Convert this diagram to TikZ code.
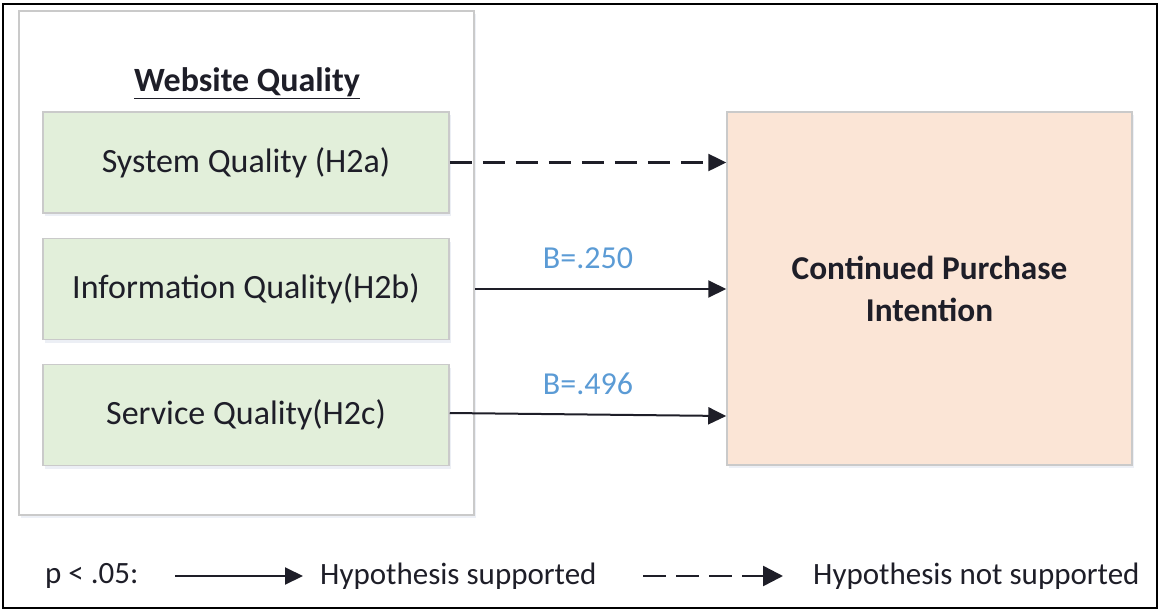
\documentclass[tikz,border=0pt]{standalone}
\usepackage{fontspec}
\setmainfont{Carlito}
\usetikzlibrary{arrows.meta,shadows}
\definecolor{boxgreen}{HTML}{E2EFDA}
\definecolor{boxpeach}{HTML}{FBE5D6}
\definecolor{edgegray}{HTML}{CACACA}
\definecolor{labelblue}{HTML}{5B9BD5}
\definecolor{ink}{HTML}{1E1E28}
\definecolor{shade}{HTML}{9AAACC}

\begin{document}
\begin{tikzpicture}[x=1pt,y=-1pt,
  soft/.style={drop shadow={opacity=0.18,shadow xshift=2pt,shadow yshift=-3pt,fill=shade}},
  panelbox/.style={draw=edgegray,line width=1.5pt,fill=white,soft,inner sep=0pt,
    minimum width=455pt,minimum height=504pt},
  factor/.style={draw=edgegray,line width=1.5pt,fill=boxgreen,soft,inner sep=0pt,
    minimum width=406pt,minimum height=101pt,font=\fontsize{34}{40}\selectfont,text=ink},
  outcome/.style={draw=edgegray,line width=1.5pt,fill=boxpeach,soft,inner sep=0pt,
    minimum width=405pt,minimum height=353pt,align=center,
    font=\bfseries\fontsize{33.3}{42}\selectfont,text=ink},
  coef/.style={font=\fontsize{32}{38}\selectfont,text=labelblue,inner sep=0pt},
  legtext/.style={font=\fontsize{31}{36}\selectfont,text=ink,inner sep=0pt,anchor=west},
  tip/.style={-{Triangle[length=18pt,width=17pt]}},
  supported/.style={tip,line width=2pt,draw=ink},
  unsupported/.style={tip,line width=2.5pt,draw=ink,dash pattern=on 22pt off 11pt},
]
\useasboundingbox (0,0) rectangle (1160,611);

% outer frame
\draw[line width=2.5pt,black] (3,4) rectangle (1157,608);

% website quality panel and its three dimensions
\node[panelbox] (panel) at (246.5,263) {};
\node[inner sep=0pt,font=\bfseries\fontsize{34}{40}\selectfont,text=ink] (title) at (247,83)
  {\underline{Website Quality}};
\node[factor] (sys)  at (246,162.5) {System Quality (H2a)};
\node[factor] (info) at (246,289)   {Information Quality(H2b)};
\node[factor] (serv) at (246,415)   {Service Quality(H2c)};

% outcome construct
\node[outcome] (cpi) at (929.5,288.5) {Continued Purchase\\Intention};

% hypothesised paths
\draw[unsupported] (sys.east) -- (sys.east -| cpi.west);
\draw[supported] (info.east -| panel.east) -- (info.east -| cpi.west);
\draw[supported] ([yshift=2pt]serv.east) -- ([yshift=-1pt]serv.east -| cpi.west);
\node[coef] (b1) at (588,258) {B=.250};
\node[coef] (b2) at (588,384) {B=.496};

% legend
\node[legtext] (lp) at (45,576) {p < .05:};
\coordinate (sa) at (175,576);
\coordinate (sb) at (303,576);
\draw[supported] (sa) -- (sb);
\node[legtext] (ls) at (320,576) {Hypothesis supported};
\coordinate (da) at (643,576);
\coordinate (db) at (783,576);
\draw[unsupported,dash pattern=on 23pt off 10pt,
  -{Triangle[length=20pt,width=20pt]}] (da) -- (db);
\node[legtext] (ln) at (813,576) {Hypothesis not supported};
\end{tikzpicture}
\end{document}
